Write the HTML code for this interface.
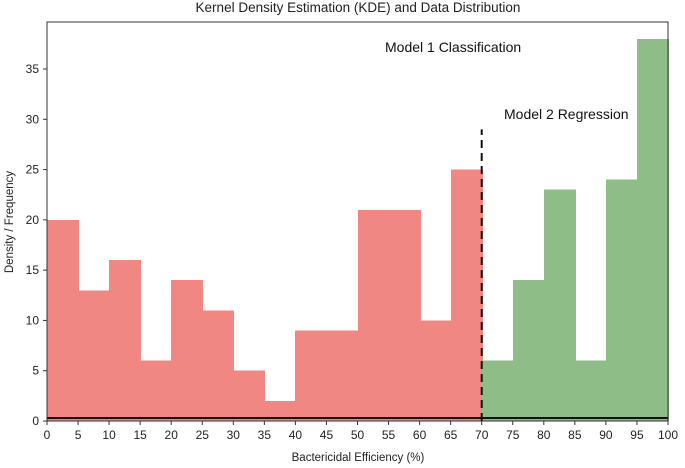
<!DOCTYPE html>
<html><head><meta charset="utf-8"><style>
html,body{margin:0;padding:0;background:#fff;}
svg{display:block;font-family:"Liberation Sans",sans-serif;}
</style></head><body>
<svg id="chart" width="685" height="468">
<text x="358" y="12" text-anchor="middle" font-size="13.5" fill="#222">Kernel Density Estimation (KDE) and Data Distribution</text>
<g id="bars" shape-rendering="crispEdges"></g>
<g id="axes"></g>
<text x="385" y="52" font-size="14" fill="#111">Model 1 Classification</text>
<text x="504" y="119" font-size="14" fill="#111">Model 2 Regression</text>
<text x="358" y="461" text-anchor="middle" font-size="11.5" fill="#222">Bactericidal Efficiency (%)</text>
<text transform="translate(13,222) rotate(-90)" text-anchor="middle" font-size="11.5" fill="#222">Density / Frequency</text>
</svg>
<script>
const binStarts=[0,5,10,15,20,25,30,35,40,45,50,55,60,65,70,75,80,85,90,95];
const counts=[20,13,16,6,14,11,5,2,9,9,21,21,10,25,6,14,23,6,24,38];
const xTicks=[0,5,10,15,20,25,30,35,40,45,50,55,60,65,70,75,80,85,90,95,100];
const yTicks=[0,5,10,15,20,25,30,35];
const splitValue=70, kdeBase=0.3, dashTop=29;
const NS="http://www.w3.org/2000/svg";
const X0=47,X1=668,YB=421,YT=22;
const xs=v=>X0+(v/100)*(X1-X0);
const ys=v=>YB-v*(YB-69)/35;
function mk(tag,attrs,parent){const e=document.createElementNS(NS,tag);for(const k in attrs)e.setAttribute(k,attrs[k]);parent.appendChild(e);return e;}
const bars=document.getElementById('bars'),axes=document.getElementById('axes');
binStarts.forEach((b,i)=>{
  const x1=Math.round(xs(b)),x2=Math.round(xs(b+5))+1;
  const r=mk('rect',{x:x1,y:ys(counts[i]),width:x2-x1,height:ys(0)-ys(counts[i]),fill:b<splitValue?'#f08783':'#8fbd87'},bars);
  
  
});
const kl=mk('line',{x1:X0,x2:X1,y1:ys(kdeBase),y2:ys(kdeBase),stroke:'#111','stroke-width':2},axes);


const dl=mk('line',{x1:xs(splitValue),x2:xs(splitValue),y1:ys(0),y2:ys(dashTop),stroke:'#111','stroke-width':2,'stroke-dasharray':'8,5'},axes);


const fr=mk('rect',{x:X0,y:YT,width:X1-X0,height:YB-YT,fill:'none',stroke:'#333','stroke-width':1},axes);


xTicks.forEach(t=>{
  mk('line',{x1:xs(t),x2:xs(t),y1:YB,y2:YB+4,stroke:'#333'},axes);
  const tx=mk('text',{x:xs(t),y:YB+18,'text-anchor':'middle','font-size':12,fill:'#222'},axes);
  tx.textContent=t;
  
  
});
yTicks.forEach(t=>{
  mk('line',{x1:X0-4,x2:X0,y1:ys(t),y2:ys(t),stroke:'#333'},axes);
  const tx=mk('text',{x:X0-8,y:ys(t)+4,'text-anchor':'end','font-size':12,fill:'#222'},axes);
  tx.textContent=t;
  
  
});
</script>
</body></html>
